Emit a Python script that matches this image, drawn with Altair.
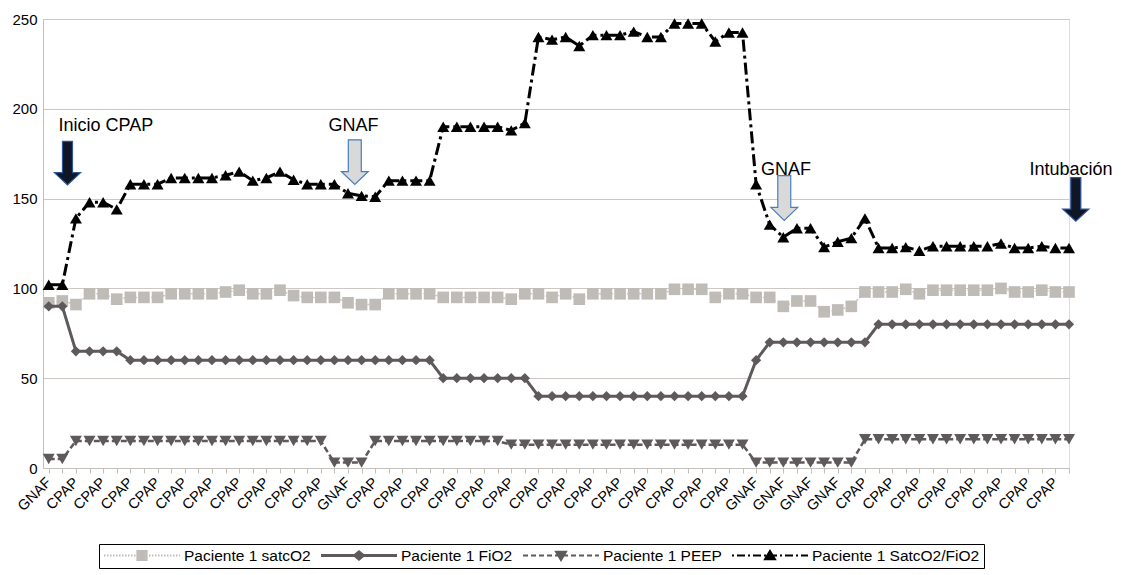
import json
import altair as alt
import pandas as pd

# ---------------- data ----------------
categories = [
    "GNAF", "GNAF", "CPAP", "CPAP", "CPAP", "CPAP", "CPAP", "CPAP", "CPAP", "CPAP",
    "CPAP", "CPAP", "CPAP", "CPAP", "CPAP", "CPAP", "CPAP", "CPAP", "CPAP", "CPAP",
    "CPAP", "GNAF", "GNAF", "GNAF", "CPAP", "CPAP", "CPAP", "CPAP", "CPAP", "CPAP",
    "CPAP", "CPAP", "CPAP", "CPAP", "CPAP", "CPAP", "CPAP", "CPAP", "CPAP", "CPAP",
    "CPAP", "CPAP", "CPAP", "CPAP", "CPAP", "CPAP", "CPAP", "CPAP", "CPAP", "CPAP",
    "CPAP", "CPAP", "GNAF", "GNAF", "GNAF", "GNAF", "GNAF", "GNAF", "GNAF", "GNAF",
    "CPAP", "CPAP", "CPAP", "CPAP", "CPAP", "CPAP", "CPAP", "CPAP", "CPAP", "CPAP",
    "CPAP", "CPAP", "CPAP", "CPAP", "CPAP", "CPAP",
]

satco2 = [
    92, 93, 91, 97, 97, 94, 95, 95, 95, 97, 97, 97, 97, 98, 99, 97, 97, 99, 96, 95,
    95, 95, 92, 91, 91, 97, 97, 97, 97, 95, 95, 95, 95, 95, 94, 97, 97, 95, 97, 94,
    97, 97, 97, 97, 97, 97, 99.5, 99.5, 99.5, 95, 97, 97, 95, 95, 90, 93, 93, 87, 88, 90,
    98, 98, 98, 99.5, 97, 99, 99, 99, 99, 99, 100, 98, 98, 99, 98, 98,
]

fio2 = [
    90, 90, 65, 65, 65, 65, 60, 60, 60, 60, 60, 60, 60, 60, 60, 60, 60, 60, 60, 60,
    60, 60, 60, 60, 60, 60, 60, 60, 60, 50, 50, 50, 50, 50, 50, 50, 40, 40, 40, 40,
    40, 40, 40, 40, 40, 40, 40, 40, 40, 40, 40, 40, 60, 70, 70, 70, 70, 70, 70, 70,
    70, 80, 80, 80, 80, 80, 80, 80, 80, 80, 80, 80, 80, 80, 80, 80,
]

peep = [
    5, 5, 15, 15, 15, 15, 15, 15, 15, 15, 15, 15, 15, 15, 15, 15, 15, 15, 15, 15,
    15, 3, 3, 3, 15, 15, 15, 15, 15, 15, 15, 15, 15, 15, 13, 13, 13, 13, 13, 13,
    13, 13, 13, 13, 13, 13, 13, 13, 13, 13, 13, 13, 3, 3, 3, 3, 3, 3, 3, 3,
    16, 16, 16, 16, 16, 16, 16, 16, 16, 16, 16, 16, 16, 16, 16, 16,
]

ratio = [
    102, 102, 139, 148, 148, 144, 158, 158, 158, 161.5, 161.5, 161.5, 161.5, 163, 165, 160, 161.5, 165, 160.5, 158,
    158, 158, 153, 151.5, 151, 160, 160, 160, 160, 190, 190, 190, 190, 190, 188, 192, 240, 238.5, 240, 235,
    241, 241, 241, 243, 240, 240, 247.5, 247.5, 247.5, 237.5, 242.5, 242.5, 158, 135.5, 128.5, 133.5, 133.5, 123, 126, 128,
    139, 122.5, 122.5, 123, 121, 123.5, 123.5, 123.5, 123.5, 123.5, 125, 122.5, 122.5, 123.5, 122.5, 122.5,
]

series_names = [
    "Paciente 1 satcO2",
    "Paciente 1 FiO2",
    "Paciente 1 PEEP",
    "Paciente 1 SatcO2/FiO2",
]
series_values = [satco2, fio2, peep, ratio]

y_ticks = [0, 50, 100, 150, 200, 250]

# annotations (data coordinates)
ann_labels = ["Inicio CPAP", "GNAF", "GNAF", "Intubación"]
ann_label_x = [4.2, 22.4, 54.2, 75.15]
ann_label_y = [187.6, 187.8, 163.3, 163.3]
arrow_x = [1.38, 22.5, 54.07, 75.5]
arrow_y = [169.8, 170.3, 150.3, 149.5]
arrow_kind = ["dark", "light", "light", "dark"]

# ---------------- styles ----------------
FONT = "Liberation Sans"
styles = {
    "Paciente 1 satcO2": dict(color="#bfbbb7", line="#cbc7c3", width=1.5, dash=[2, 2], shape="square", size=135),
    "Paciente 1 FiO2": dict(color="#5e595a", line="#5e595a", width=3, dash=[1, 0], shape="diamond", size=105),
    "Paciente 1 PEEP": dict(color="#5e595a", line="#5e595a", width=2.5, dash=[6, 3], shape="triangle-down", size=144),
    "Paciente 1 SatcO2/FiO2": dict(color="#000000", line="#000000", width=3, dash=[12, 4, 3, 4], shape="triangle-up", size=144),
}

# legend symbols: a line (dash drawn in the path) with a marker in the middle
LEG_W = 76.0
U = LEG_W / 2.0


def f(v):
    return f"{v / U:.4f}"


def dash_line(pattern, offsets=(0.0,)):
    parts = []
    for oy in offsets:
        xpos = -U
        i = 0
        while xpos < U:
            seg = pattern[i % len(pattern)]
            if i % 2 == 0:
                x2 = min(xpos + seg, U)
                parts.append(f"M{f(xpos)},{f(oy)}L{f(x2)},{f(oy)}")
            xpos += seg
            i += 1
    return "".join(parts)


def poly(points, scales):
    out = []
    for s in scales:
        pts = [(px * s, py * s) for px, py in points]
        out.append("M" + "L".join(f"{f(a)},{f(b)}" for a, b in pts) + "Z")
    return "".join(out)


sq = [(-4.6, -4.6), (4.6, -4.6), (4.6, 4.6), (-4.6, 4.6)]
dm = [(-5.0, 0), (0, -4.2), (5.0, 0), (0, 4.2)]
td = [(-5.0, -3.8), (5.0, -3.8), (0, 4.6)]
tu = [(0, -4.6), (5.0, 3.8), (-5.0, 3.8)]
fill_scales = [1.0, 0.55, 0.15]

legend_paths = [
    dash_line([1.5, 1.5]) + poly(sq, fill_scales),
    dash_line([200, 0], offsets=(-0.5, 0.5)) + poly(dm, fill_scales),
    dash_line([5, 3]) + poly(td, fill_scales),
    dash_line([2, 3, 8, 3]) + poly(tu, fill_scales),
]
legend_colors = [styles[n]["color"] for n in series_names]

arrow_dark_path = "M-0.23,-1L0.23,-1L0.23,0.44L0.6,0.44L0,1L-0.6,0.44L-0.23,0.44Z"
arrow_light_path = "M-0.29,-1L0.29,-1L0.29,0.42L0.6,0.42L0,1L-0.6,0.42L-0.29,0.42Z"

# ---------------- tables ----------------
rows = []
for name, vals in zip(series_names, series_values):
    for i, v in enumerate(vals):
        rows.append({"idx": i, "value": v, "series": name, "cat": categories[i]})
df = pd.DataFrame(rows)

ann_text_df = pd.DataFrame({"idx": ann_label_x, "value": ann_label_y, "label": ann_labels})
arrow_df = pd.DataFrame({"idx": arrow_x, "value": arrow_y, "kind": arrow_kind})

# ---------------- encodings ----------------
label_expr = "datum.value % 2 == 0 ? " + json.dumps(categories) + "[datum.value] : ''"

X = alt.X(
    "idx:Q",
    title=None,
    scale=alt.Scale(domain=[-0.42, 75], nice=False, zero=False),
    axis=alt.Axis(
        values=list(range(len(categories))),
        labelExpr=label_expr,
        labelAngle=315,
        labelAlign="right",
        labelBaseline="middle",
        labelFontSize=14.5,
        labelFont=FONT,
        labelColor="#000000",
        labelPadding=7,
        labelOverlap=False,
        labelFlush=False,
        labelBound=False,
        tickSize=5,
        tickColor="#c3bfbb",
        domainColor="#c3bfbb",
        grid=False,
    ),
)
Y = alt.Y(
    "value:Q",
    title=None,
    scale=alt.Scale(domain=[0, 250], nice=False, zero=True),
    axis=alt.Axis(
        values=y_ticks,
        labelFontSize=15,
        labelFont=FONT,
        labelColor="#000000",
        labelPadding=6,
        labelFlush=False,
        ticks=False,
        domainColor="#c3bfbb",
        grid=True,
        gridColor="#cdc8c3",
        gridWidth=1,
    ),
)

layers = []
for name in series_names:
    st = styles[name]
    sub = alt.Chart(df).transform_filter(alt.datum.series == name)
    layers.append(
        sub.mark_line(color=st["line"], strokeWidth=st["width"], strokeDash=st["dash"]).encode(x=X, y=Y)
    )
    layers.append(
        sub.mark_point(shape=st["shape"], size=st["size"], filled=True, color=st["color"], opacity=1).encode(x=X, y=Y)
    )

arrows_dark = alt.Chart(arrow_df).transform_filter(alt.datum.kind == "dark").mark_point(
    shape=arrow_dark_path, size=1900, filled=True, fill="#0f1626", stroke="#2f5597", strokeWidth=1.2, opacity=1
).encode(x=X, y=Y)
arrows_light = alt.Chart(arrow_df).transform_filter(alt.datum.kind == "light").mark_point(
    shape=arrow_light_path, size=2000, filled=True, fill="#d9d9d9", stroke="#4a7ebb", strokeWidth=1.2, opacity=1
).encode(x=X, y=Y)
ann_text = alt.Chart(ann_text_df).mark_text(
    font=FONT, fontSize=18, color="#000000", align="center", baseline="alphabetic"
).encode(x=X, y=Y, text="label:N")

leg = alt.Legend(
    orient="none",
    legendX=56,
    legendY=525,
    direction="horizontal",
    columns=4,
    title=None,
    labelFont=FONT,
    labelFontSize=15.5,
    labelColor="#000000",
    labelLimit=400,
    labelOffset=3,
    columnPadding=9,
    rowPadding=0,
    padding=4,
    symbolSize=LEG_W * LEG_W,
    symbolStrokeWidth=2,
    symbolOpacity=1,
    clipHeight=15,
    strokeColor="#000000",
    fillColor="#ffffff",
)
legend_layer = alt.Chart(df).transform_filter("false").mark_point(
    filled=False, opacity=1, strokeWidth=2
).encode(
    color=alt.Color("series:N", scale=alt.Scale(domain=series_names, range=legend_colors), legend=leg),
    shape=alt.Shape("series:N", scale=alt.Scale(domain=series_names, range=legend_paths), legend=leg),
)

chart = (
    alt.layer(*layers, arrows_dark, arrows_light, ann_text, legend_layer)
    .properties(width=1026, height=449, padding={"left": 3, "top": 4, "right": 0, "bottom": 0})
    .configure_view(stroke="#c3bfbb", strokeWidth=1)
    .configure(font=FONT, background="#ffffff")
)

chart.save("out.html", embed_options={"renderer": "svg", "actions": False})
